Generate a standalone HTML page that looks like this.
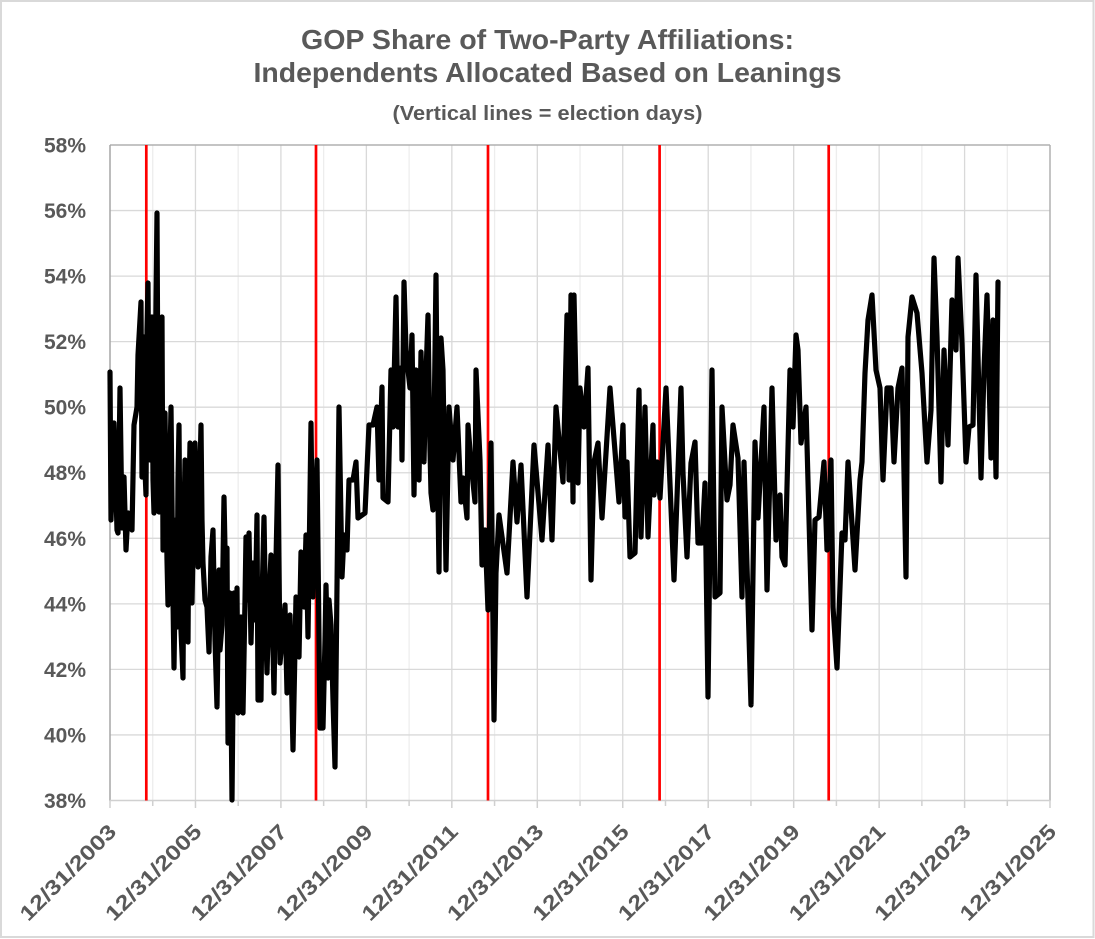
<!DOCTYPE html>
<html>
<head>
<meta charset="utf-8">
<style>
  html,body{margin:0;padding:0;background:#fff;}
  svg{display:block;}
  text{font-family:"Liberation Sans",Arial,sans-serif;font-weight:bold;fill:#595959;}
</style>
</head>
<body>
<svg width="1095" height="939" viewBox="0 0 1095 939" xmlns="http://www.w3.org/2000/svg">
  <rect x="0" y="0" width="1095" height="939" fill="#fff"/>
  <rect x="1" y="1" width="1092.5" height="936" fill="none" stroke="#d9d9d9" stroke-width="2"/>

  <!-- Titles -->
  <text x="547.5" y="49" font-size="28" text-anchor="middle" textLength="493" lengthAdjust="spacingAndGlyphs">GOP Share of Two-Party Affiliations:</text>
  <text x="547.5" y="82" font-size="28" text-anchor="middle" textLength="588" lengthAdjust="spacingAndGlyphs">Independents Allocated Based on Leanings</text>
  <text x="547.5" y="120" font-size="20" text-anchor="middle" textLength="310" lengthAdjust="spacingAndGlyphs">(Vertical lines = election days)</text>

  <!-- vertical gridlines -->
  <g stroke-width="1.3">
    <line x1="152.73" y1="145" x2="152.73" y2="800.5" stroke="#ededed"/>
    <line x1="195.46" y1="145" x2="195.46" y2="800.5" stroke="#d9d9d9"/>
    <line x1="238.19" y1="145" x2="238.19" y2="800.5" stroke="#ededed"/>
    <line x1="280.92" y1="145" x2="280.92" y2="800.5" stroke="#d9d9d9"/>
    <line x1="323.65" y1="145" x2="323.65" y2="800.5" stroke="#ededed"/>
    <line x1="366.38" y1="145" x2="366.38" y2="800.5" stroke="#d9d9d9"/>
    <line x1="409.11" y1="145" x2="409.11" y2="800.5" stroke="#ededed"/>
    <line x1="451.84" y1="145" x2="451.84" y2="800.5" stroke="#d9d9d9"/>
    <line x1="494.57" y1="145" x2="494.57" y2="800.5" stroke="#ededed"/>
    <line x1="537.3" y1="145" x2="537.3" y2="800.5" stroke="#d9d9d9"/>
    <line x1="580.03" y1="145" x2="580.03" y2="800.5" stroke="#ededed"/>
    <line x1="622.76" y1="145" x2="622.76" y2="800.5" stroke="#d9d9d9"/>
    <line x1="665.49" y1="145" x2="665.49" y2="800.5" stroke="#ededed"/>
    <line x1="708.22" y1="145" x2="708.22" y2="800.5" stroke="#d9d9d9"/>
    <line x1="750.95" y1="145" x2="750.95" y2="800.5" stroke="#ededed"/>
    <line x1="793.68" y1="145" x2="793.68" y2="800.5" stroke="#d9d9d9"/>
    <line x1="836.41" y1="145" x2="836.41" y2="800.5" stroke="#ededed"/>
    <line x1="879.14" y1="145" x2="879.14" y2="800.5" stroke="#d9d9d9"/>
    <line x1="921.87" y1="145" x2="921.87" y2="800.5" stroke="#ededed"/>
    <line x1="964.6" y1="145" x2="964.6" y2="800.5" stroke="#d9d9d9"/>
    <line x1="1007.33" y1="145" x2="1007.33" y2="800.5" stroke="#ededed"/>
  </g>
  <!-- horizontal gridlines -->
  <g stroke="#d9d9d9" stroke-width="1.3">
    <line x1="110" y1="210.55" x2="1050" y2="210.55"/>
    <line x1="110" y1="276.1" x2="1050" y2="276.1"/>
    <line x1="110" y1="341.65" x2="1050" y2="341.65"/>
    <line x1="110" y1="407.2" x2="1050" y2="407.2"/>
    <line x1="110" y1="472.75" x2="1050" y2="472.75"/>
    <line x1="110" y1="538.3" x2="1050" y2="538.3"/>
    <line x1="110" y1="603.85" x2="1050" y2="603.85"/>
    <line x1="110" y1="669.4" x2="1050" y2="669.4"/>
    <line x1="110" y1="734.95" x2="1050" y2="734.95"/>
  </g>
  <!-- plot frame -->
  <line x1="110" y1="145" x2="1050" y2="145" stroke="#b0b0b0" stroke-width="1.5"/>
  <line x1="1050" y1="145" x2="1050" y2="800.5" stroke="#b0b0b0" stroke-width="1.5"/>
  <line x1="110" y1="145" x2="110" y2="800.5" stroke="#a6a6a6" stroke-width="1.5"/>
  <line x1="110" y1="800.5" x2="1050" y2="800.5" stroke="#d0d0d0" stroke-width="1.5"/>
  <!-- ticks -->
  <g stroke="#d0d0d0" stroke-width="1.5">
    <line x1="110" y1="800.5" x2="110" y2="808"/>
    <line x1="152.73" y1="800.5" x2="152.73" y2="806"/>
    <line x1="195.46" y1="800.5" x2="195.46" y2="808"/>
    <line x1="238.19" y1="800.5" x2="238.19" y2="806"/>
    <line x1="280.92" y1="800.5" x2="280.92" y2="808"/>
    <line x1="323.65" y1="800.5" x2="323.65" y2="806"/>
    <line x1="366.38" y1="800.5" x2="366.38" y2="808"/>
    <line x1="409.11" y1="800.5" x2="409.11" y2="806"/>
    <line x1="451.84" y1="800.5" x2="451.84" y2="808"/>
    <line x1="494.57" y1="800.5" x2="494.57" y2="806"/>
    <line x1="537.3" y1="800.5" x2="537.3" y2="808"/>
    <line x1="580.03" y1="800.5" x2="580.03" y2="806"/>
    <line x1="622.76" y1="800.5" x2="622.76" y2="808"/>
    <line x1="665.49" y1="800.5" x2="665.49" y2="806"/>
    <line x1="708.22" y1="800.5" x2="708.22" y2="808"/>
    <line x1="750.95" y1="800.5" x2="750.95" y2="806"/>
    <line x1="793.68" y1="800.5" x2="793.68" y2="808"/>
    <line x1="836.41" y1="800.5" x2="836.41" y2="806"/>
    <line x1="879.14" y1="800.5" x2="879.14" y2="808"/>
    <line x1="921.87" y1="800.5" x2="921.87" y2="806"/>
    <line x1="964.6" y1="800.5" x2="964.6" y2="808"/>
    <line x1="1007.33" y1="800.5" x2="1007.33" y2="806"/>
    <line x1="1050" y1="800.5" x2="1050" y2="808"/>
  </g>

  <!-- election day lines -->
  <g stroke="#ff0000" stroke-width="2.7">
    <line x1="146.3" y1="145" x2="146.3" y2="800.5"/>
    <line x1="316" y1="145" x2="316" y2="800.5"/>
    <line x1="488" y1="145" x2="488" y2="800.5"/>
    <line x1="659.6" y1="145" x2="659.6" y2="800.5"/>
    <line x1="828.7" y1="145" x2="828.7" y2="800.5"/>
  </g>

  <!-- series -->
  <polyline fill="none" stroke="#000" stroke-width="5.2" stroke-linejoin="round" stroke-linecap="round" points="
110,372 111,520 114,423 117,530 118,533 120,388 122,528 124,477 126,550 128,513 132,530 134,425 137,407 138,355 141,302 142,477 143,360 144,337 145,470 146,495 147,330 148,283 149,440 150,460 151,350 152,317 153,480 154,513 156,300 157,213 158,420 159,512 160,380 162,317 163,550 164,470 165,413 167,560 168,605 170,460 171,407 173,600 174,668 176,520 177,627 178,480 179,425 180,560 181,630 183,678 184,520 185,460 187,580 188,642 189,500 190,443 191,560 192,603 194,500 195,443 197,520 198,567 200,470 201,425 202,520 203,563 205,600 207,607 209,652 211,557 213,530 215,640 217,707 219,570 220,650 222,625 224,497 226,600 227,548 228,743 230,593 232,800 234,593 236,680 237,588 238,713 240,640 241,617 243,713 245,600 246,537 248,600 249,533 251,643 253,563 255,620 257,515 258,700 261,700 262,600 264,517 266,640 267,673 269,600 271,555 273,650 274,693 276,560 278,465 280,663 283,630 285,605 287,693 290,615 293,750 296,597 299,657 301,552 304,607 306,535 308,637 311,423 313,597 315,520 317,460 319,640 320,728 323,728 325,640 326,585 328,678 329,600 331,625 333,700 335,767 339,407 342,577 344,535 347,550 349,480 353,480 356,462 358,518 365,513 369,425 373,425 377,407 379,480 382,387 383,498 388,502 391,370 393,427 396,297 398,427 400,400 401,368 402,460 404,282 406,350 408,370 410,388 412,335 414,495 416,370 418,430 419,480 421,352 424,462 426,375 428,315 430,450 431,493 433,510 436,275 438,500 439,572 441,338 443,370 446,570 449,407 453,460 457,407 461,502 463,478 467,518 468,425 471,463 475,502 476,370 480,460 482,565 485,530 488,610 491,443 494,720 496,573 499,515 507,573 513,462 517,522 521,465 527,597 534,445 542,540 548,445 552,540 556,407 563,482 567,315 569,480 571,295 573,502 574,295 578,483 580,388 584,427 588,368 591,580 594,462 598,443 602,518 610,388 619,502 623,425 625,517 627,462 630,557 635,553 639,390 641,537 645,407 648,537 653,425 654,495 657,462 660,498 666,388 674,580 681,388 683,473 687,557 691,463 695,442 698,543 702,543 705,483 708,697 712,370 715,597 720,593 722,407 727,500 730,485 733,425 738,458 742,597 744,462 751,705 755,442 758,518 764,407 767,590 772,388 776,540 780,495 782,557 785,565 790,370 793,427 796,335 798,350 801,443 806,407 812,630 815,520 819,517 824,462 827,550 831,460 833,607 837,668 842,533 845,540 848,462 855,570 860,480 862,462 865,373 868,320 872,295 876,370 880,388 883,480 887,388 891,388 894,462 898,388 902,368 906,577 908,337 912,297 917,313 922,373 927,462 931,410 934,258 937,337 941,482 944,350 948,445 952,300 956,350 958,258 962,343 966,462 969,427 973,425 976,275 981,478 984,370 987,295 991,458 993,320 996,477 998,282"/>

  <!-- y axis labels -->
  <g font-size="21" text-anchor="end">
    <text x="86" y="152.5">58%</text>
    <text x="86" y="218">56%</text>
    <text x="86" y="283.6">54%</text>
    <text x="86" y="349.1">52%</text>
    <text x="86" y="414.7">50%</text>
    <text x="86" y="480.2">48%</text>
    <text x="86" y="545.8">46%</text>
    <text x="86" y="611.3">44%</text>
    <text x="86" y="676.9">42%</text>
    <text x="86" y="742.4">40%</text>
    <text x="86" y="808">38%</text>
  </g>

  <!-- x axis labels -->
  <g font-size="21" text-anchor="end">
    <text x="117.5" y="833" transform="rotate(-45 117.5 833)" textLength="126" lengthAdjust="spacingAndGlyphs">12/31/2003</text>
    <text x="202.96" y="833" transform="rotate(-45 202.96 833)" textLength="126" lengthAdjust="spacingAndGlyphs">12/31/2005</text>
    <text x="288.42" y="833" transform="rotate(-45 288.42 833)" textLength="126" lengthAdjust="spacingAndGlyphs">12/31/2007</text>
    <text x="373.88" y="833" transform="rotate(-45 373.88 833)" textLength="126" lengthAdjust="spacingAndGlyphs">12/31/2009</text>
    <text x="459.34" y="833" transform="rotate(-45 459.34 833)" textLength="126" lengthAdjust="spacingAndGlyphs">12/31/2011</text>
    <text x="544.8" y="833" transform="rotate(-45 544.8 833)" textLength="126" lengthAdjust="spacingAndGlyphs">12/31/2013</text>
    <text x="630.26" y="833" transform="rotate(-45 630.26 833)" textLength="126" lengthAdjust="spacingAndGlyphs">12/31/2015</text>
    <text x="715.72" y="833" transform="rotate(-45 715.72 833)" textLength="126" lengthAdjust="spacingAndGlyphs">12/31/2017</text>
    <text x="801.18" y="833" transform="rotate(-45 801.18 833)" textLength="126" lengthAdjust="spacingAndGlyphs">12/31/2019</text>
    <text x="886.64" y="833" transform="rotate(-45 886.64 833)" textLength="126" lengthAdjust="spacingAndGlyphs">12/31/2021</text>
    <text x="972.1" y="833" transform="rotate(-45 972.1 833)" textLength="126" lengthAdjust="spacingAndGlyphs">12/31/2023</text>
    <text x="1057.5" y="833" transform="rotate(-45 1057.5 833)" textLength="126" lengthAdjust="spacingAndGlyphs">12/31/2025</text>
  </g>
</svg>
</body>
</html>
